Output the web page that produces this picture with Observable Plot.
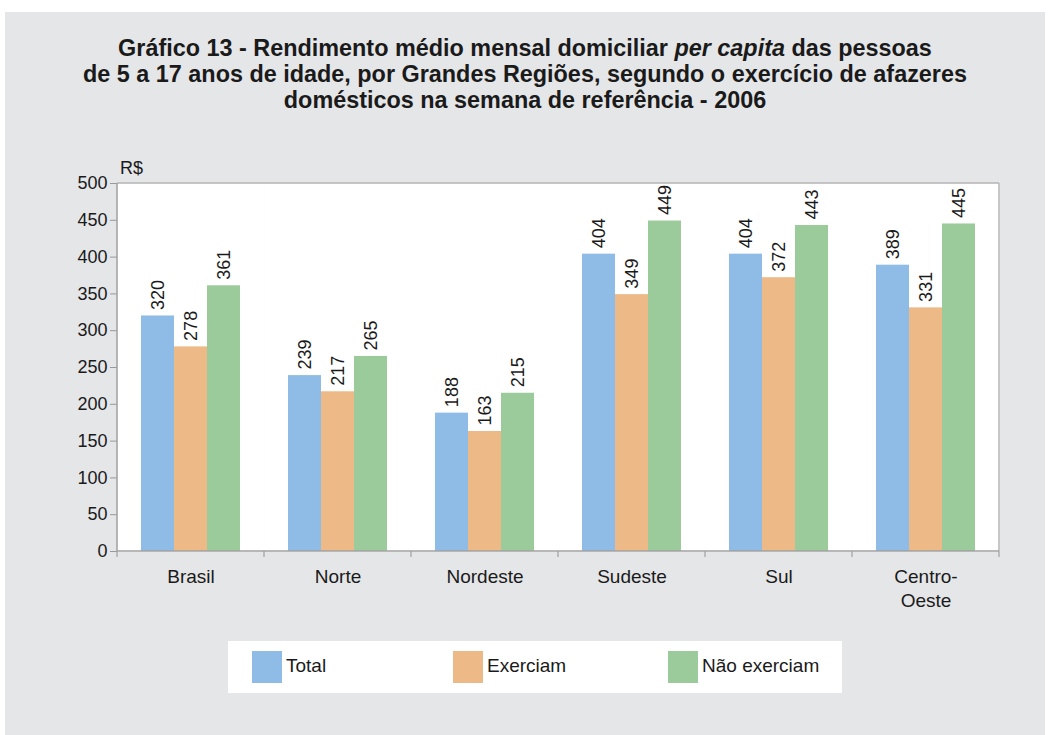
<!DOCTYPE html>
<html><head><meta charset="utf-8">
<script src="https://cdn.jsdelivr.net/npm/d3@7"></script>
<script src="https://cdn.jsdelivr.net/npm/@observablehq/plot@0.6"></script>
<style>
body{margin:0;background:#fff;font-family:"Liberation Sans",Arial,sans-serif;color:#1a1a1a;}
#panel{position:absolute;left:5px;top:12px;width:1040px;height:723px;background:#e5e6e8;overflow:hidden;}
#title{position:absolute;left:0;top:23px;width:1040px;text-align:center;font-weight:bold;font-size:23.4px;line-height:26px;color:#1a1a1a;}
#chart{position:absolute;left:-5px;top:138px;width:1051px;}
#chart svg{max-width:none !important;}
#unit{position:absolute;left:115px;top:146px;font-size:18px;}
#legend{position:absolute;left:223px;top:629px;width:614px;height:52px;background:#fff;font-size:19px;}
.item{position:absolute;top:10px;height:32px;display:flex;align-items:center;}
.item span{position:relative;top:-1px;}
.sw{width:30px;height:32px;margin-right:4px;}
</style></head>
<body>
<div id="panel">
  <div id="title">Gráfico 13 - Rendimento médio mensal domiciliar <i>per capita</i> das pessoas<br>de 5 a 17 anos de idade, por Grandes Regiões, segundo o exercício de afazeres<br>domésticos na semana de referência - 2006</div>
  <div id="unit">R$</div>
  <div id="chart"></div>
  <div id="legend"></div>
</div>
<script>
const regions = ["Brasil","Norte","Nordeste","Sudeste","Sul","Centro-Oeste"];
const series = ["Total","Exerciam","Não exerciam"];
const total = [320,239,188,404,404,389];
const exerciam = [278,217,163,349,372,331];
const naoExerciam = [361,265,215,449,443,445];
const colors = ["#8fbce6","#ecb987","#9bca9b"];
const yTicks = [0,50,100,150,200,250,300,350,400,450,500];

const values = [total, exerciam, naoExerciam];
const data = regions.flatMap((r,i)=>series.map((s,j)=>({region:r, serie:s, value:values[j][i]})));

const plot = Plot.plot({
  width:1051, height:470,
  marginLeft:117, marginRight:52, marginTop:33, marginBottom:69,
  style:{background:"transparent", fontFamily:"'Liberation Sans', Arial, sans-serif", fontSize:"18px", color:"#1a1a1a"},
  fx:{domain:regions, padding:0, axis:null},
  x:{domain:series, paddingInner:0, paddingOuter:0.727, axis:null},
  y:{domain:[0,500], axis:null},
  color:{domain:series, range:colors},
  marks:[
    Plot.frame({fill:"white", stroke:"white", strokeWidth:0.5}),
    Plot.barY(data,{fx:"region", x:"serie", y:"value", fill:"serie"}),
    Plot.text(data,{fx:"region", x:"serie", y:"value", text:d=>String(d.value), rotate:-90, textAnchor:"start", dy:-6, fontSize:18, fill:"#1a1a1a"}),
    Plot.axisY({ticks:yTicks, tickSize:7, tickPadding:3, stroke:"#999", fontSize:18, label:null}),
    Plot.axisFx({anchor:"bottom", tickSize:0, tickPadding:15, fontSize:19, lineHeight:1.25, label:null,
      tickFormat:d=>d==="Centro-Oeste" ? "Centro-\nOeste" : d})
  ]
});
document.getElementById("chart").appendChild(plot);

const fx = plot.scale("fx"), y = plot.scale("y");
const svg = d3.select(plot);
const x0 = fx.range[0], x1 = fx.range[1];
const yb = y.apply(0), yt = y.apply(500);
const g = svg.append("g").attr("fill","none");
g.append("line").attr("x1",x0).attr("x2",x1).attr("y1",yt).attr("y2",yt).attr("stroke","#b5b5b5").attr("stroke-width",1.5);
g.append("line").attr("x1",x1).attr("x2",x1).attr("y1",yt).attr("y2",yb).attr("stroke","#b5b5b5").attr("stroke-width",1.5);
g.append("line").attr("x1",x0).attr("x2",x0).attr("y1",yt).attr("y2",yb).attr("stroke","#a0a0a0").attr("stroke-width",1.5);
g.append("line").attr("x1",x0).attr("x2",x1).attr("y1",yb).attr("y2",yb).attr("stroke","#a0a0a0").attr("stroke-width",1.5);
const edges = regions.map(r=>fx.apply(r)).concat([x1]);
edges.forEach(e=>g.append("line").attr("x1",e).attr("x2",e).attr("y1",yb).attr("y2",yb+6).attr("stroke","#a0a0a0").attr("stroke-width",1.2));

const legend = document.getElementById("legend");
const legendX = [24, 225, 440];
series.forEach((s,i)=>{
  const it = document.createElement("div");
  it.className="item"; it.style.left=legendX[i]+"px";
  it.innerHTML = `<div class="sw" style="background:${colors[i]}"></div><span>${s}</span>`;
  legend.appendChild(it);
});
</script>
</body></html>
